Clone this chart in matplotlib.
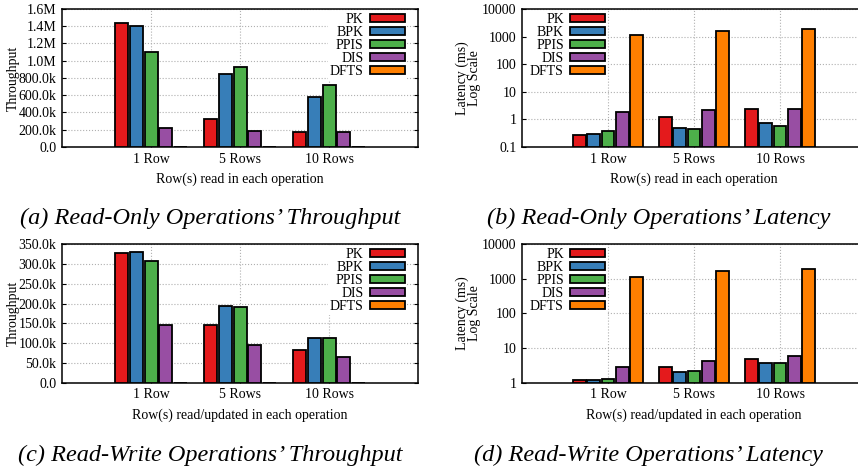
import numpy as np
import matplotlib
matplotlib.use("Agg")
import matplotlib.pyplot as plt

plt.rcParams['font.family'] = ['Liberation Serif', 'DejaVu Serif']
plt.rcParams['font.size'] = 10

groups = ['1 Row', '5 Rows', '10 Rows']
methods = ['PK', 'BPK', 'PPIS', 'DIS', 'DFTS']
colors = ['#e41a1c', '#377eb8', '#4daf4a', '#984ea3', '#ff7f00']

# (a) read-only throughput
ro_tput = {
    'PK':   [1441e3, 325e3, 170e3],
    'BPK':  [1399e3, 842e3, 576e3],
    'PPIS': [1105e3, 931e3, 723e3],
    'DIS':  [216e3, 189e3, 174e3],
    'DFTS': [1.0e3, 0.7e3, 0.6e3],
}
ro_tput_ticks = [0, 200e3, 400e3, 600e3, 800e3, 1000e3, 1200e3, 1400e3, 1600e3]
ro_tput_labels = ['0.0', '200.0k', '400.0k', '600.0k', '800.0k', '1.0M', '1.2M', '1.4M', '1.6M']

# (b) read-only latency (ms)
ro_lat = {
    'PK':   [0.28, 1.26, 2.45],
    'BPK':  [0.29, 0.49, 0.72],
    'PPIS': [0.37, 0.44, 0.56],
    'DIS':  [1.86, 2.13, 2.30],
    'DFTS': [1111, 1596, 1833],
}
ro_lat_ticks = [0.1, 1, 10, 100, 1000, 10000]
ro_lat_labels = ['0.1', '1', '10', '100', '1000', '10000']

# (c) read-write throughput
rw_tput = {
    'PK':   [328e3, 145e3, 82e3],
    'BPK':  [329e3, 194e3, 114e3],
    'PPIS': [306e3, 191e3, 112e3],
    'DIS':  [146e3, 96e3, 66e3],
    'DFTS': [1.0e3, 0.7e3, 0.6e3],
}
rw_tput_ticks = [0, 50e3, 100e3, 150e3, 200e3, 250e3, 300e3, 350e3]
rw_tput_labels = ['0.0', '50.0k', '100.0k', '150.0k', '200.0k', '250.0k', '300.0k', '350.0k']

# (d) read-write latency (ms)
rw_lat = {
    'PK':   [1.22, 2.85, 4.96],
    'BPK':  [1.22, 2.13, 3.63],
    'PPIS': [1.34, 2.18, 3.72],
    'DIS':  [2.78, 4.25, 6.06],
    'DFTS': [1130, 1614, 1845],
}
rw_lat_ticks = [1, 10, 100, 1000, 10000]
rw_lat_labels = ['1', '10', '100', '1000', '10000']


def draw(ax, data, ticks, labels, ylabel, xlabel, log=False):
    x = np.arange(1, len(groups) + 1)
    slot = 1.0 / 6
    base = ticks[0]
    for i, m in enumerate(methods):
        vals = np.array(data[m]) - base
        ax.bar(x + (i - 2) * slot, vals, width=0.145, bottom=base, color=colors[i],
               edgecolor='black', linewidth=1.3, label=m, zorder=3)
    if log:
        ax.set_yscale('log')
    ax.set_ylim(ticks[0], ticks[-1])
    ax.set_yticks(ticks)
    ax.set_yticklabels(labels)
    ax.minorticks_off()
    ax.set_xlim(0, 4)
    ax.set_xticks(x)
    ax.set_xticklabels(groups)
    ax.tick_params(direction='in', length=3, width=0.8, pad=4, labelsize=10,
                   right=True, top=False)
    ax.grid(True, linestyle=':', color='#b0b0b0', linewidth=0.8, zorder=0)
    for s in ax.spines.values():
        s.set_linewidth(1.1)
    ax.set_ylabel(ylabel, fontsize=10, labelpad=1 if log else -1, linespacing=0.85)
    ax.set_xlabel(xlabel, fontsize=10, labelpad=5)
    if log:
        loc, anchor = 'upper left', (0.017, 0.985)
    else:
        loc, anchor = 'upper right', (0.968, 0.985)
    leg = ax.legend(loc=loc, bbox_to_anchor=anchor, markerfirst=False, frameon=True,
                    fancybox=False, edgecolor='none', framealpha=1,
                    handlelength=2.5, handleheight=0.5, labelspacing=0.0,
                    handletextpad=0.45, borderpad=0.15, borderaxespad=0,
                    fontsize=10)
    leg.set_zorder(4)


fig = plt.figure(figsize=(8.58, 4.71), dpi=100)

ax_a = fig.add_axes([0.0723, 0.688, 0.415, 0.293])
ax_b = fig.add_axes([0.6084, 0.688, 0.401, 0.293])
ax_c = fig.add_axes([0.0723, 0.187, 0.415, 0.295])
ax_d = fig.add_axes([0.6084, 0.187, 0.401, 0.295])

draw(ax_a, ro_tput, ro_tput_ticks, ro_tput_labels, 'Throughput',
     'Row(s) read in each operation')
draw(ax_b, ro_lat, ro_lat_ticks, ro_lat_labels, 'Latency (ms)\nLog Scale',
     'Row(s) read in each operation', log=True)
draw(ax_c, rw_tput, rw_tput_ticks, rw_tput_labels, 'Throughput',
     'Row(s) read/updated in each operation')
draw(ax_d, rw_lat, rw_lat_ticks, rw_lat_labels, 'Latency (ms)\nLog Scale',
     'Row(s) read/updated in each operation', log=True)

cap = dict(fontsize=17.5, style='italic', ha='center', va='center')
fig.text(210 / 858, 1 - 218 / 471, "(a) Read-Only Operations\u2019 Throughput", **cap)
fig.text(659 / 858, 1 - 218 / 471, "(b) Read-Only Operations\u2019 Latency", **cap)
fig.text(210 / 858, 1 - 455 / 471, "(c) Read-Write Operations\u2019 Throughput", **cap)
fig.text(648 / 858, 1 - 455 / 471, "(d) Read-Write Operations\u2019 Latency", **cap)

fig.savefig('out.png', dpi=100)
